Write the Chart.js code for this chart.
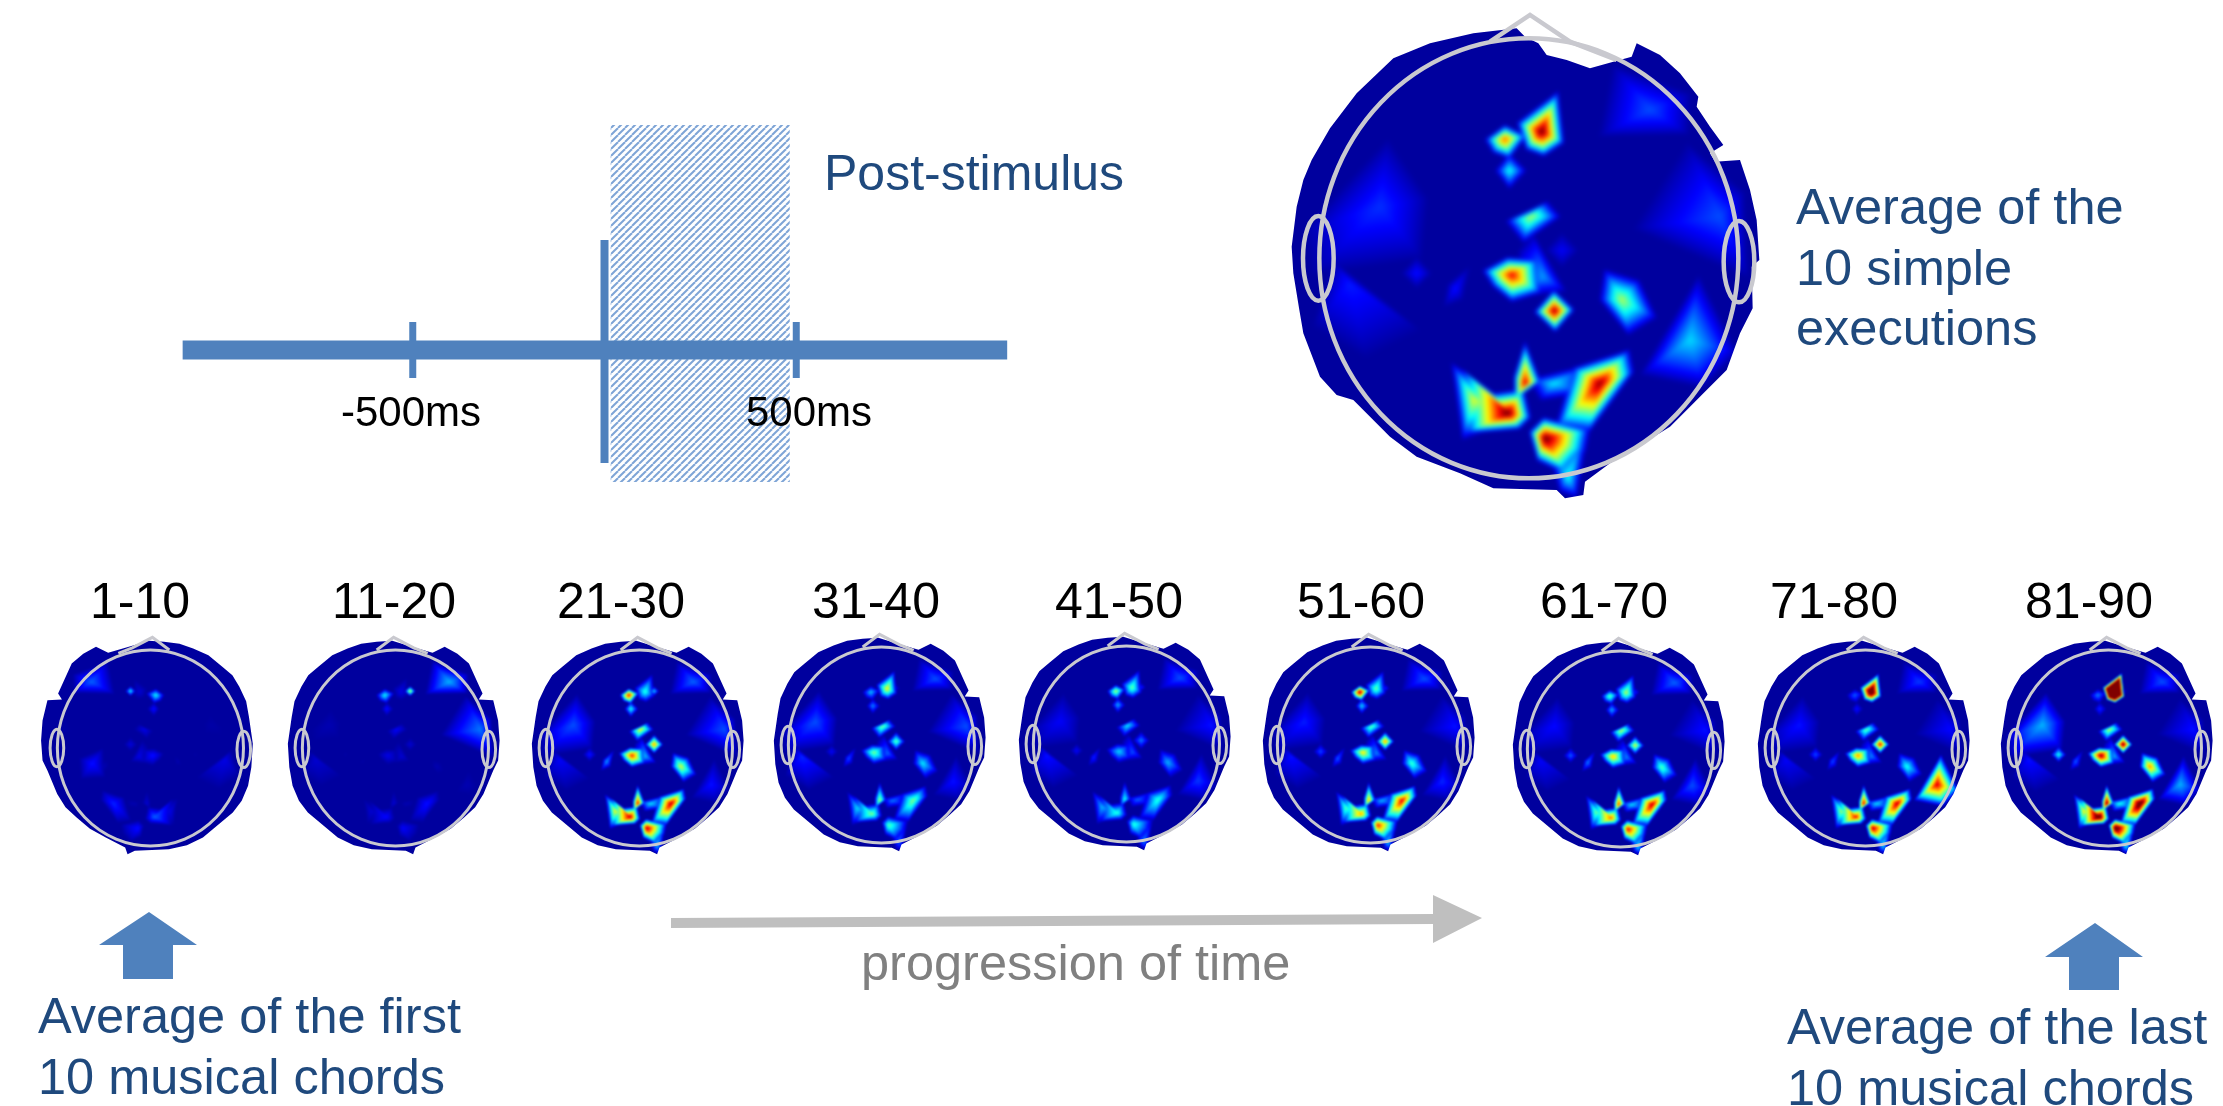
<!DOCTYPE html>
<html>
<head>
<meta charset="utf-8">
<title>Topographic maps</title>
<script src="https://cdn.jsdelivr.net/npm/chart.js@4/dist/chart.umd.min.js"></script>
<style>
    html, body { margin: 0; background: #fff; overflow: hidden; }
    #page { position: relative; width: 2223px; height: 1106px; font-family: "Liberation Sans", Arial, sans-serif; }
    #page canvas { position: absolute; }
    .txt { position: absolute; white-space: nowrap; line-height: 1; transform: translateY(-50%); }
    .blue { color: #1f497d; font-size: 50.5px; }
    .black { color: #000; font-size: 50px; }
    .grey { color: #808080; font-size: 50.5px; }
</style>
</head>
<body>
<div id="page"></div>
<script>
// timeline, in ms
const timeTicks = [-500, 500]
const timeTickLabels = ["-500ms", "500ms"]
const timeAxisStart = -1100
const timeAxisEnd = 1050
const stimulusTime = 0
const postWindow = [16, 483]

const mapTitles = ["1-10", "11-20", "21-30", "31-40", "41-50", "51-60", "61-70", "71-80", "81-90"]

// active regions of the scalp: peak position and outline, in head units (1560 x 1530 box)
const siteNames = ["A", "B", "B2", "C", "D", "E", "F", "F2", "G", "H", "I", "Iw", "J", "K", "L", "M", "N", "O", "P", "Q", "R", "S", "V", "W", "Y"]
const sitePeakU = [845, 735, 906, 748, 811, 755, 906, 883, 1085, 1020, 745, 640, 795, 855, 925, 880, 1290, 1170, 360, 1380, 270, 850, 470, 585, 1163]
const sitePeakV = [395, 418, 392, 512, 650, 825, 751, 932, 900, 1150, 1240, 1200, 1150, 1315, 1430, 1150, 1020, 330, 620, 650, 850, 830, 820, 865, 878]
const siteOutlines = [
    [[882, 305], [895, 420], [850, 450], [810, 435], [790, 375]],
    [[690, 418], [735, 385], [785, 410], [745, 462], [708, 448]],
    [[878, 392], [906, 366], [934, 392], [906, 418]],
    [[748, 470], [788, 512], [748, 555], [715, 512]],
    [[755, 660], [850, 615], [880, 650], [795, 710]],
    [[690, 815], [745, 785], [815, 790], [822, 865], [755, 885], [712, 850]],
    [[860, 751], [906, 702], [952, 751], [906, 798]],
    [[838, 935], [882, 885], [928, 930], [885, 980]],
    [[1045, 830], [1125, 855], [1165, 940], [1100, 980], [1035, 900]],
    [[1085, 1075], [1095, 1125], [995, 1260], [920, 1250], [960, 1115]],
    [[640, 1140], [710, 1195], [780, 1185], [795, 1250], [770, 1275], [650, 1285]],
    [[590, 1115], [705, 1195], [750, 1245], [615, 1290]],
    [[795, 1055], [830, 1145], [770, 1190], [770, 1135]],
    [[820, 1300], [852, 1268], [955, 1295], [945, 1345], [900, 1395], [838, 1365]],
    [[885, 1395], [975, 1305], [945, 1480], [905, 1465]],
    [[820, 1140], [965, 1105], [955, 1175], [850, 1190]],
    [[1310, 870], [1400, 1050], [1320, 1130], [1175, 1100]],
    [[1080, 220], [1270, 290], [1265, 390], [1045, 395]],
    [[380, 450], [480, 600], [465, 750], [190, 790], [165, 680]],
    [[1300, 470], [1440, 590], [1450, 800], [1170, 680]],
    [[225, 790], [450, 970], [310, 1040], [175, 960]],
    [[825, 725], [905, 865], [800, 880], [790, 770]],
    [[470, 775], [510, 820], [470, 860], [430, 820]],
    [[625, 805], [605, 895], [555, 915], [565, 855]],
    [[1100, 790], [1240, 850], [1230, 970], [1090, 960]],
]

// site values per map (same order as siteNames), 0 to 1 on the colour scale, above 1 saturates
const simpleValues = [1.05, .8, .05, .4, .55, .9, .12, 1, .55, 1, 1.05, .6, .95, 1.05, .4, .36, .34, .2, .17, .2, .15, .28, .14, .14, 0]
const values1_10 = [.08, .38, .38, .14, .1, .14, .09, 0, .05, .16, .22, .1, .08, .14, .02, .05, .03, .22, .04, .04, .1, .1, .04, .05, .14]
const values11_20 = [.1, .38, .6, .14, .12, .1, .08, 0, .05, .14, .13, .08, .08, .12, .02, .05, .05, .3, .05, .24, .08, .08, .04, .04, 0]
const values21_30 = [.42, .9, .34, .4, .62, .85, .75, 0, .58, .95, .95, .6, .9, .95, .32, .35, .14, .22, .2, .2, .12, .3, .15, .28, 0]
const values31_40 = [.62, .32, .1, .26, .5, .5, .48, 0, .36, .5, .5, .34, .55, .46, .22, .24, .14, .2, .2, .2, .16, .22, .12, .2, 0]
const values41_50 = [.48, .55, .16, .3, .36, .34, .25, 0, .3, .42, .42, .3, .4, .42, .25, .22, .18, .2, .12, .14, .14, .2, .12, .16, 0]
const values51_60 = [.48, 1, .16, .34, .48, .65, .75, 0, .44, .9, .72, .45, .72, .85, .32, .3, .16, .2, .15, .14, .14, .25, .2, .22, 0]
const values61_70 = [.55, .48, .16, .3, .56, .7, .6, 0, .46, .95, .78, .48, .85, .88, .35, .34, .2, .22, .13, .14, .12, .25, .22, .25, 0]
const values71_80 = [1.3, .22, .08, .14, .48, .75, .9, 0, .4, .95, .88, .52, .92, .95, .35, .34, .92, .18, .14, .13, .12, .25, .2, .2, 0]
const values81_90 = [2.5, .25, .1, .17, .56, 1, 1.05, 0, .75, 1.15, 1.15, .62, 1.05, 1.15, .38, .4, .3, .2, .3, .14, .14, .28, .4, .22, 0]
const chordValues = [values1_10, values11_20, values21_30, values31_40, values41_50, values51_60, values61_70, values71_80, values81_90]

// scalp edge and nose, head units
const simpleScalp = [[770, 85], [795, 110], [835, 130], [860, 165], [920, 180], [990, 205], [1060, 185], [1115, 170], [1130, 130], [1200, 165], [1260, 220], [1315, 290], [1310, 320], [1350, 380], [1390, 435], [1350, 460], [1365, 485], [1440, 480], [1470, 570], [1490, 660], [1498, 780], [1475, 800], [1478, 925], [1440, 1000], [1400, 1110], [1340, 1170], [1290, 1220], [1230, 1280], [1150, 1330], [1050, 1390], [975, 1445], [970, 1485], [915, 1495], [890, 1470], [700, 1465], [600, 1420], [470, 1370], [390, 1310], [280, 1200], [230, 1185], [180, 1130], [130, 1000], [118, 930], [100, 820], [95, 740], [110, 620], [130, 540], [155, 480], [210, 385], [290, 280], [400, 175], [510, 130], [640, 100]]
const chordScalp = [[785, 52], [877, 81], [1057, 133], [1139, 92], [1225, 140], [1303, 205], [1395, 408], [1369, 449], [1467, 453], [1500, 589], [1510, 725], [1500, 860], [1467, 927], [1401, 1085], [1345, 1175], [1270, 1243], [1180, 1320], [1073, 1378], [942, 1446], [926, 1491], [877, 1468], [647, 1457], [525, 1430], [417, 1378], [215, 1210], [155, 1130], [112, 1030], [90, 905], [80, 747], [106, 566], [125, 460], [171, 363], [218, 285], [286, 228], [380, 150], [483, 104], [575, 72], [680, 59]]
const simpleNose = [[690, 125], [810, 45], [930, 125], [1070, 180]]
const chordNose = [[680, 115], [794, 29], [930, 100], [1024, 138]]

const mapCentreX = [150, 395, 639, 881, 1126, 1370, 1620, 1865, 2108]
const mapCentreY = [748, 748, 748, 745, 744, 745, 749, 748, 748]
const titleCentreX = [140, 394, 621, 876, 1119, 1361, 1604, 1834, 2089]

const page = document.getElementById("page")

function addText(str, cls, left, centreY, extra) {
    const d = document.createElement("div")
    d.className = "txt " + cls
    d.textContent = str
    d.style.left = left + "px"
    d.style.top = centreY + "px"
    if (extra) Object.assign(d.style, extra)
    page.appendChild(d)
}

function addCanvas(left, top, w, h) {
    const c = document.createElement("canvas")
    c.width = w
    c.height = h
    c.style.left = left + "px"
    c.style.top = top + "px"
    c.style.width = w + "px"
    c.style.height = h + "px"
    page.appendChild(c)
    return c
}

function jet(v) {
    v = Math.max(0, Math.min(1, v))
    const r = 255 * Math.min(1, Math.max(0, 1.5 - Math.abs(4 * v - 3)))
    const g = 255 * Math.min(1, Math.max(0, 1.5 - Math.abs(4 * v - 2)))
    const b = 255 * Math.min(1, Math.max(0, 1.5 - Math.abs(4 * v - 1)))
    return [r, g, b]
}

// height of a cone over a star shaped outline, 1 at the peak, fading out a bit past the edge
function coneAt(u, v, pu, pv, outline) {
    const du = u - pu, dv = v - pv
    if (du === 0 && dv === 0) return 1
    for (let i = 0; i < outline.length; i++) {
        const a = outline[i], b = outline[(i + 1) % outline.length]
        const ax = a[0] - pu, ay = a[1] - pv, bx = b[0] - pu, by = b[1] - pv
        const det = ax * by - ay * bx
        if (det === 0) continue
        const s = (du * by - dv * bx) / det
        const t = (ax * dv - ay * du) / det
        if (s >= 0 && t >= 0) return Math.pow(Math.max(0, 1 - (s + t) / 1.4), .85)
    }
    return 0
}

const topoPlugin = {
    id: "topo",
    beforeDatasetsDraw(chart, args, opts) {
        const xs = chart.scales.x, ys = chart.scales.y, ctx = chart.ctx
        const w = chart.width, h = chart.height
        const sites = chart.data.datasets[0].data
        const scalp = chart.data.datasets[1].data
        const off = document.createElement("canvas")
        off.width = w
        off.height = h
        const offCtx = off.getContext("2d")
        const img = offCtx.createImageData(w, h)
        for (let j = 0; j < h; j++) {
            const v = ys.getValueForPixel(j + .5)
            for (let i = 0; i < w; i++) {
                let u = xs.getValueForPixel(i + .5)
                if (opts.mirror) u = 1578 - u
                let val = .03
                for (let s = 0; s < sites.length; s++) {
                    if (!sites[s].v) continue
                    val = Math.max(val, sites[s].v * coneAt(u, v, sites[s].x, sites[s].y, siteOutlines[s]))
                }
                const c = jet(val), k = (j * w + i) * 4
                img.data[k] = c[0]
                img.data[k + 1] = c[1]
                img.data[k + 2] = c[2]
                img.data[k + 3] = 255
            }
        }
        offCtx.putImageData(img, 0, 0)
        ctx.save()
        ctx.beginPath()
        scalp.forEach((p, i) => {
            const px = xs.getPixelForValue(p.x), py = ys.getPixelForValue(p.y)
            if (i === 0) ctx.moveTo(px, py)
            else ctx.lineTo(px, py)
        })
        ctx.closePath()
        ctx.clip()
        ctx.filter = "blur(" + opts.blur + "px)"
        ctx.drawImage(off, 0, 0)
        ctx.restore()
    },
    afterDatasetsDraw(chart, args, opts) {
        const xs = chart.scales.x, ys = chart.scales.y, ctx = chart.ctx
        const rings = [[806.5, 775, 628.5, 660], [175, 775, 46, 127], [1437, 785, 46, 122]]
        ctx.save()
        ctx.strokeStyle = "#c9c9cf"
        ctx.lineWidth = opts.ringWidth
        rings.forEach(r => {
            const cx = xs.getPixelForValue(r[0]), cy = ys.getPixelForValue(r[1])
            const rx = Math.abs(xs.getPixelForValue(r[0] + r[2]) - cx)
            const ry = Math.abs(ys.getPixelForValue(r[1] + r[3]) - cy)
            ctx.beginPath()
            ctx.ellipse(cx, cy, rx, ry, 0, 0, Math.PI * 2)
            ctx.stroke()
        })
        ctx.restore()
    }
}

function drawMap(centreX, centreY, rx, ry, values, scalpPts, nosePts, mirror, ringWidth) {
    const sx = rx / 628.5, sy = ry / 660
    const w = Math.round(1560 * sx), h = Math.round(1530 * sy)
    const canvas = addCanvas(Math.round(centreX - 806.5 * sx), Math.round(centreY - 775 * sy), w, h)
    const sites = siteNames.map((n, i) => ({ x: sitePeakU[i], y: sitePeakV[i], v: values[i] }))
    const toPts = (list, axis) => list.map(p => ({ x: axis ? axis - p[0] : p[0], y: p[1] }))
    return new Chart(canvas.getContext("2d"), {
        type: "scatter",
        data: {
            datasets: [
                { label: "sites", data: sites, pointRadius: 0 },
                { label: "scalp", data: toPts(scalpPts, mirror ? 1578 : 0), pointRadius: 0, showLine: false },
                { label: "nose", data: toPts(nosePts, mirror ? 1614 : 0), pointRadius: 0, showLine: true, borderColor: "#c9c9cf", borderWidth: ringWidth, tension: 0 },
            ],
        },
        options: {
            responsive: false,
            animation: false,
            layout: { padding: 0 },
            scales: {
                x: { type: "linear", display: false, min: 0, max: 1560 },
                y: { type: "linear", display: false, reverse: true, min: 0, max: 1530 },
            },
            plugins: {
                legend: { display: false },
                tooltip: { enabled: false },
                topo: { mirror: mirror, blur: ringWidth > 3 ? 2 : 1, ringWidth: ringWidth },
            },
        },
        plugins: [topoPlugin],
    })
}

function hatchPattern() {
    const tile = document.createElement("canvas")
    tile.width = 7
    tile.height = 7
    const t = tile.getContext("2d")
    t.strokeStyle = "#7ea4d6"
    t.lineWidth = 2
    for (let o = -7; o <= 7; o += 7) {
        t.beginPath()
        t.moveTo(o, 7)
        t.lineTo(o + 7, 0)
        t.stroke()
    }
    return t.createPattern(tile, "repeat")
}

function drawTimeline() {
    const canvas = addCanvas(100, 100, 1000, 420)
    const line = (label, pts, width, order) => ({
        label: label, data: pts, showLine: true, borderColor: "#4f81bd", borderWidth: width,
        borderCapStyle: "butt", pointRadius: 0, tension: 0, order: order,
    })
    const tickMarks = timeTicks.map(t => line("tick " + t, [{ x: t, y: -28 }, { x: t, y: 28 }], 7, 1))
    new Chart(canvas.getContext("2d"), {
        type: "scatter",
        data: {
            datasets: [
                line("time", [{ x: timeAxisStart, y: 0 }, { x: timeAxisEnd, y: 0 }], 19, 0),
                ...tickMarks,
                line("stimulus", [{ x: stimulusTime, y: -113 }, { x: stimulusTime, y: 110 }], 8, 1),
                {
                    label: "post-stimulus",
                    data: [{ x: postWindow[0], y: -132 }, { x: postWindow[0], y: 225 }, { x: postWindow[1], y: 225 }, { x: postWindow[1], y: -132 }],
                    showLine: true, borderWidth: 0, pointRadius: 0, fill: "shape", backgroundColor: hatchPattern(), order: 2,
                },
            ],
        },
        options: {
            responsive: false,
            animation: false,
            layout: { padding: 0 },
            scales: {
                x: { type: "linear", display: false, min: -1315.5, max: 1292 },
                y: { type: "linear", display: false, min: -170, max: 250 },
            },
            plugins: { legend: { display: false }, tooltip: { enabled: false } },
        },
    })
}

function drawArrows() {
    const canvas = addCanvas(0, 0, 2223, 1106)
    const shape = (label, pts, color) => ({
        label: label, data: pts.map(p => ({ x: p[0], y: p[1] })), showLine: true, borderWidth: 0,
        pointRadius: 0, tension: 0, fill: "shape", backgroundColor: color,
    })
    new Chart(canvas.getContext("2d"), {
        type: "scatter",
        data: {
            datasets: [
                shape("first", [[149, 912], [197, 945], [173, 945], [173, 979], [123, 979], [123, 945], [99, 945]], "#4f81bd"),
                shape("last", [[2095, 923], [2143, 957], [2119, 957], [2119, 990], [2069, 990], [2069, 957], [2045, 957]], "#4f81bd"),
                shape("time", [[671, 918], [1433, 914], [1433, 895], [1482, 918], [1433, 943], [1433, 924], [671, 928]], "#bfbfbf"),
            ],
        },
        options: {
            responsive: false,
            animation: false,
            layout: { padding: 0 },
            scales: {
                x: { type: "linear", display: false, min: 0, max: 2223 },
                y: { type: "linear", display: false, reverse: true, min: 0, max: 1106 },
            },
            plugins: { legend: { display: false }, tooltip: { enabled: false } },
        },
    })
}

drawTimeline()
drawArrows()
drawMap(1529, 258, 209.5, 220, simpleValues, simpleScalp, simpleNose, false, 4.5)
mapTitles.forEach((title, i) => {
    drawMap(mapCentreX[i], mapCentreY[i], 93, 98, chordValues[i], chordScalp, chordNose, i === 0, 3)
    addText(title, "black", titleCentreX[i], 601, { transform: "translate(-50%, -50%)" })
})

addText("Post-stimulus", "blue", 824, 173, { fontSize: "50px" })
addText(timeTickLabels[0], "black", 341, 412, { fontSize: "42px" })
addText(timeTickLabels[1], "black", 746, 412, { fontSize: "42px" })
addText("Average of the", "blue", 1796, 207)
addText("10 simple", "blue", 1796, 268)
addText("executions", "blue", 1796, 328)
addText("progression of time", "grey", 861, 963)
addText("Average of the first", "blue", 38, 1016)
addText("10 musical chords", "blue", 38, 1077)
addText("Average of the last", "blue", 1787, 1027)
addText("10 musical chords", "blue", 1787, 1088)
</script>
</body>
</html>
